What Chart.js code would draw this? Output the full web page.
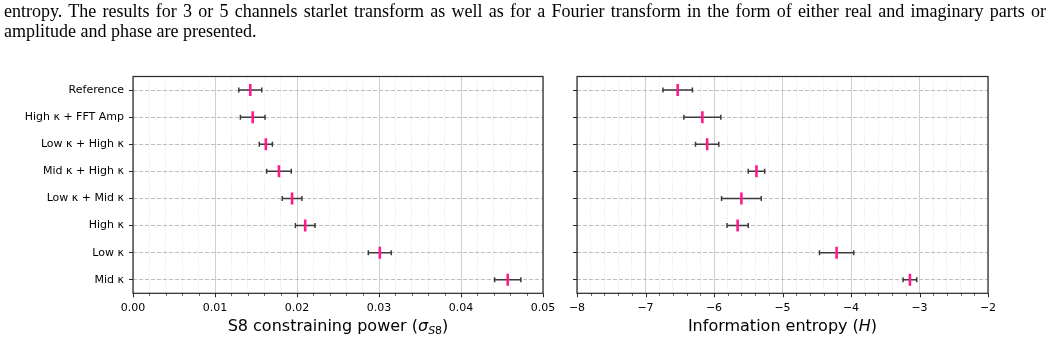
<!DOCTYPE html>
<html>
<head>
<meta charset="utf-8">
<script src="https://cdn.jsdelivr.net/npm/chart.js@4"></script>
<style>
  body { margin: 0; background: #fff; width: 1057px; height: 340px; overflow: hidden; position: relative; }
  .cap { position: absolute; left: 4px; width: 1042px; font-family: "Liberation Serif", serif; font-size: 18px; line-height: 17px; color: #000; z-index: 2; }
  #cap1 { top: 3px; text-align: justify; text-align-last: justify; }
  #cap2 { top: 22.5px; }
  canvas { position: absolute; top: 0; }
  #left { left: 0; }
  #right { left: 560px; }
</style>
</head>
<body>
<div class="cap" id="cap1">entropy. The results for 3 or 5 channels starlet transform as well as for a Fourier transform in the form of either real and imaginary parts or</div>
<div class="cap" id="cap2">amplitude and phase are presented.</div>
<canvas id="left" width="565" height="340"></canvas>
<canvas id="right" width="497" height="340"></canvas>
<script>
// rows, top to bottom
const labels = ['Reference', 'High κ + FFT Amp', 'Low κ + High κ', 'Mid κ + High κ', 'Low κ + Mid κ', 'High κ', 'Low κ', 'Mid κ'];

// S8 constraining power
const s8Mean = [0.0143, 0.0146, 0.0162, 0.0178, 0.0194, 0.0210, 0.0301, 0.0457];
const s8Err = [0.0014, 0.0015, 0.0008, 0.0015, 0.0012, 0.0012, 0.0014, 0.0016];

// information entropy
const entMean = [-6.53, -6.17, -6.10, -5.38, -5.60, -5.655, -4.21, -3.14];
const entErr = [0.215, 0.27, 0.17, 0.12, 0.29, 0.155, 0.25, 0.10];

const s8Ticks = [0, 0.01, 0.02, 0.03, 0.04, 0.05];
const entTicks = [-8, -7, -6, -5, -4, -3, -2];

const FONT = 'DejaVu Sans';

// major ticks plus 4 minor ones in between
function withMinor(major) {
    var out = [];
    var step = (major[1] - major[0]) / 5;
    for (var i = 0; i < major.length; i++) {
        out.push({ value: major[i] });
        if (i < major.length - 1) {
            for (var k = 1; k < 5; k++) out.push({ value: major[i] + k * step, minor: true });
        }
    }
    return out;
}

const errorBars = {
    id: 'errorBars',
    beforeDatasetsDraw(chart, args, opts) {
        var ctx = chart.ctx, xs = chart.scales.x, ys = chart.scales.y;
        var data = chart.data.datasets[0].data;
        ctx.save();
        ctx.strokeStyle = '#3a3a3a';
        ctx.lineWidth = 1.5;
        data.forEach((p, i) => {
            var y = ys.getPixelForValue(p.y);
            var x1 = xs.getPixelForValue(p.x - opts.err[i]);
            var x2 = xs.getPixelForValue(p.x + opts.err[i]);
            ctx.beginPath();
            ctx.moveTo(x1, y); ctx.lineTo(x2, y);
            ctx.moveTo(x1, y - 2.5); ctx.lineTo(x1, y + 2.5);
            ctx.moveTo(x2, y - 2.5); ctx.lineTo(x2, y + 2.5);
            ctx.stroke();
        });
        ctx.restore();
    }
};

// box around the axes + x tick marks (minor ones shorter)
const frame = {
    id: 'frame',
    afterDraw(chart) {
        var ctx = chart.ctx, a = chart.chartArea, xs = chart.scales.x;
        ctx.save();
        ctx.strokeStyle = '#262626';
        xs.ticks.forEach(t => {
            var x = Math.round(xs.getPixelForValue(t.value)) + 0.5;
            ctx.lineWidth = t.minor ? 0.8 : 1;
            ctx.beginPath();
            ctx.moveTo(x, a.bottom);
            ctx.lineTo(x, a.bottom + (t.minor ? 2.5 : 4));
            ctx.stroke();
        });
        ctx.lineWidth = 1.2;
        ctx.strokeRect(a.left, a.top, a.right - a.left, a.bottom - a.top);
        ctx.restore();
    }
};

// axis title with italic / subscript pieces
const richTitle = {
    id: 'richTitle',
    afterDraw(chart, args, opts) {
        if (!opts.parts) return;
        var ctx = chart.ctx, a = chart.chartArea;
        var fontOf = p => (p.italic ? 'italic ' : '') + (p.sub ? 11 : 16) + 'px "' + FONT + '"';
        ctx.save();
        ctx.fillStyle = '#000';
        ctx.textBaseline = 'alphabetic';
        var total = 0;
        opts.parts.forEach(p => { ctx.font = fontOf(p); total += ctx.measureText(p.text).width; });
        var x = (a.left + a.right) / 2 - total / 2;
        opts.parts.forEach(p => {
            ctx.font = fontOf(p);
            ctx.fillText(p.text, x, opts.y + (p.sub ? 3 : 0));
            x += ctx.measureText(p.text).width;
        });
        ctx.restore();
    }
};

function makeChart(id, mean, err, major, o) {
    var ticks = withMinor(major);
    return new Chart(document.getElementById(id), {
        type: 'scatter',
        data: {
            datasets: [{
                data: mean.map((v, i) => ({ x: v, y: i })),
                pointStyle: 'line',
                rotation: 90,
                radius: 6,
                hoverRadius: 6,
                borderWidth: 2.6,
                borderColor: '#ff1a8c',
                backgroundColor: '#ff1a8c'
            }]
        },
        plugins: [errorBars, frame, richTitle],
        options: {
            responsive: false,
            animation: false,
            events: [],
            layout: { padding: { top: 76.5, right: o.padRight, left: 0, bottom: 0 } },
            plugins: {
                legend: { display: false },
                tooltip: { enabled: false },
                errorBars: { err: err },
                richTitle: { parts: o.title, y: 330.5 }
            },
            scales: {
                x: {
                    type: 'linear',
                    min: major[0],
                    max: major[major.length - 1],
                    afterFit: s => { s.height = 46.7; },
                    afterBuildTicks: s => { s.ticks = ticks; },
                    ticks: {
                        autoSkip: false,
                        maxRotation: 0,
                        padding: 8,
                        color: '#000',
                        font: { family: FONT, size: 11 },
                        callback: (v, i, t) => t[i].minor ? '' : o.fmt(v)
                    },
                    grid: {
                        drawTicks: false,
                        lineWidth: 1,
                        color: c => (c.tick && c.tick.minor) ? '#e0e0e0' : '#d0d0d0'
                    },
                    border: {
                        display: false,
                        dash: c => (c.tick && c.tick.minor) ? [1, 2] : []
                    }
                },
                y: {
                    type: 'linear',
                    reverse: true,
                    min: -0.5,
                    max: 7.5,
                    afterFit: s => { s.width = o.yWidth; },
                    afterBuildTicks: s => { s.ticks = labels.map((l, i) => ({ value: i })); },
                    ticks: {
                        display: o.showLabels,
                        autoSkip: false,
                        padding: 5,
                        color: '#000',
                        font: { family: FONT, size: 11 },
                        callback: v => labels[v]
                    },
                    grid: {
                        color: '#bdbdbd',
                        lineWidth: 1,
                        tickLength: 4,
                        tickWidth: 1,
                        tickColor: '#262626'
                    },
                    border: { display: false, dash: [4, 2] }
                }
            }
        }
    });
}

// left canvas is a bit wider than its slot so the 0.05 label fits without shrinking the axes
makeChart('left', s8Mean, s8Err, s8Ticks, {
    padRight: 22,
    yWidth: 133,
    showLabels: true,
    fmt: v => v.toFixed(2),
    title: [
        { text: 'S8 constraining power (' },
        { text: 'σ', italic: true },
        { text: 'S', italic: true, sub: true },
        { text: '8', sub: true },
        { text: ')' }
    ]
});

makeChart('right', entMean, entErr, entTicks, {
    padRight: 69,
    yWidth: 17,
    showLabels: false,
    fmt: v => String(Math.round(v)).replace('-', '\u2212'),
    title: [
        { text: 'Information entropy (' },
        { text: 'H', italic: true },
        { text: ')' }
    ]
});
</script>
</body>
</html>
